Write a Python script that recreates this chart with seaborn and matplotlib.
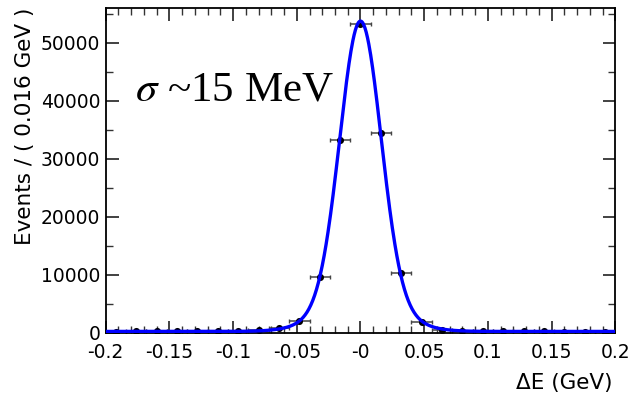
import numpy as np
import pandas as pd
import matplotlib
matplotlib.use("Agg")
import matplotlib.pyplot as plt
from matplotlib.ticker import MultipleLocator, FixedLocator
import seaborn as sns

# ---- data ----
bin_centers = [-0.192, -0.176, -0.160, -0.144, -0.128, -0.112, -0.096, -0.080, -0.064,
               -0.048, -0.032, -0.016, 0.000, 0.016, 0.032, 0.048, 0.064, 0.080,
               0.096, 0.112, 0.128, 0.144, 0.160, 0.176, 0.192]
events = [200, 250, 250, 250, 300, 350, 400, 500, 850,
          2100, 9700, 33200, 53300, 34500, 10400, 1950, 550, 350,
          300, 300, 250, 250, 200, 200, 150]
bin_half_width = 0.008

# fit model parameters (double Gaussian + flat background)
fit_mean = 0.0
core_amp, core_sigma = 48000, 0.016
wide_amp, wide_sigma = 5500, 0.028
bkg_level = 250

x_ticks = [-0.2, -0.15, -0.1, -0.05, 0.0, 0.05, 0.1, 0.15, 0.2]
x_tick_labels = ["-0.2", "-0.15", "-0.1", "-0.05", "-0", "0.05", "0.1", "0.15", "0.2"]
y_ticks = [0, 10000, 20000, 30000, 40000, 50000]
y_tick_labels = ["0", "10000", "20000", "30000", "40000", "50000"]

sns.set_theme(style="ticks")
plt.rcParams["font.family"] = ["DejaVu Sans"]
plt.rcParams["mathtext.fontset"] = "stix"
plt.rcParams["text.color"] = "black"

fig = plt.figure(figsize=(6.33, 4.03), dpi=100)
ax = fig.add_axes([0.167, 0.174, 0.805, 0.806])

df = pd.DataFrame({"x": bin_centers, "y": events})
df["yerr"] = np.sqrt(df["y"])

xs = np.linspace(-0.2, 0.2, 801)
curve = (core_amp * np.exp(-0.5 * ((xs - fit_mean) / core_sigma) ** 2)
         + wide_amp * np.exp(-0.5 * ((xs - fit_mean) / wide_sigma) ** 2)
         + bkg_level)
cdf = pd.DataFrame({"x": xs, "y": curve})

ax.errorbar(df["x"], df["y"], xerr=bin_half_width, yerr=df["yerr"], fmt="none",
            ecolor="#444444", elinewidth=1.1, capsize=1.5, capthick=1.0, zorder=2)
sns.scatterplot(data=df, x="x", y="y", ax=ax, color="black", s=26,
                edgecolor="black", linewidth=0, zorder=3)
sns.lineplot(data=cdf, x="x", y="y", ax=ax, color="#0000ff", linewidth=2.4, zorder=4)

ax.set_xlim(-0.2, 0.2)
ax.set_ylim(0, 56000)
ax.xaxis.set_major_locator(FixedLocator(x_ticks))
ax.set_xticklabels(x_tick_labels)
ax.xaxis.set_minor_locator(MultipleLocator(0.01))
ax.yaxis.set_major_locator(FixedLocator(y_ticks))
ax.set_yticklabels(y_tick_labels)
ax.yaxis.set_minor_locator(MultipleLocator(5000))

ax.tick_params(which="both", direction="in", top=True, right=True, color="#333333",
               labelsize=13.5, labelcolor="black")
ax.tick_params(axis="y", pad=4)
ax.tick_params(axis="x", pad=7)
ax.tick_params(which="major", length=9, width=1.3)
ax.tick_params(which="minor", length=5, width=1.0)
for sp in ax.spines.values():
    sp.set_linewidth(1.3)
    sp.set_color("black")

ax.set_xlabel("")
ax.set_ylabel("")
fig.text(0.968, 0.025, "ΔE (GeV)", ha="right", va="bottom", fontsize=15.5)
fig.text(0.04, 0.98, "Events / ( 0.016 GeV )", rotation=90, ha="center", va="top",
         fontsize=15.5)

ax.text(-0.177, 40000, r"$\sigma$ ~15 MeV", fontsize=31, family="Liberation Serif",
        color="black", ha="left", va="baseline")

fig.savefig("out.png", dpi=100)
